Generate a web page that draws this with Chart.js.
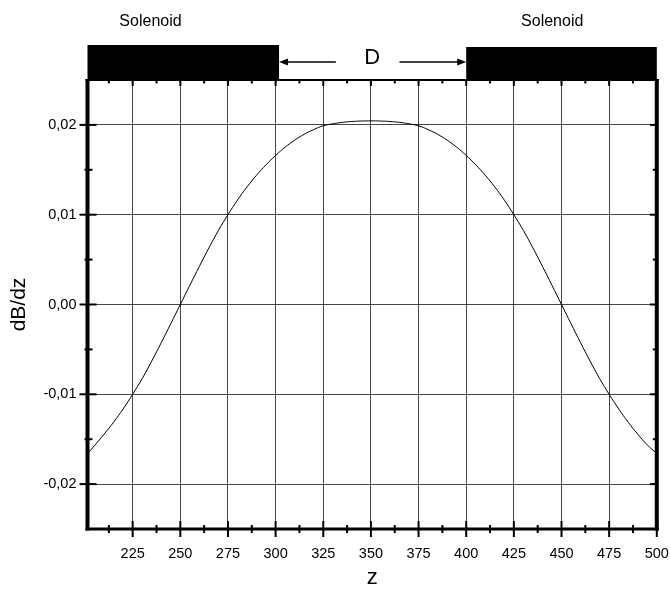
<!DOCTYPE html>
<html><head><meta charset="utf-8">
<script src="https://cdn.jsdelivr.net/npm/chart.js@4"></script>
<style>html,body{margin:0;padding:0;background:#fff;}#wrap{width:670px;height:589px;position:relative;}</style>
</head><body><div id="wrap"><canvas id="c" width="670" height="589"></canvas></div>
<script>
// ---- data ----
const zValues = [201,205,210,215,220,225,230,235,240,245,250,255,260,265,270,275,280,285,290,295,300,305,310,315,320,325,330,335,340,345,350,355,360,365,370,375,380,385,390,395,400,405,410,415,420,425,430,435,440,445,450,455,460,465,470,475,480,485,490,495,500];
const dBdz = [-0.0167,-0.0157,-0.01444,-0.01311,-0.01163,-0.0100,-0.00825,-0.0063,-0.00425,-0.00214,0.0000,0.00214,0.00425,0.0063,0.00825,0.0100,0.01163,0.01309,0.0144,0.01556,0.0166,0.01752,0.0183,0.01896,0.01948,0.0199,0.02012,0.02028,0.02038,0.02043,0.02045,0.02043,0.02038,0.02028,0.02012,0.0199,0.01948,0.01896,0.0183,0.01752,0.0166,0.01556,0.0144,0.01309,0.01163,0.0100,0.00825,0.0063,0.00425,0.00214,0.0000,-0.00214,-0.00425,-0.0063,-0.00825,-0.0100,-0.01163,-0.01311,-0.01444,-0.01564,-0.0166];
const xTickValues = [225,250,275,300,325,350,375,400,425,450,475,500];
const xMinorTicks = [212.5,237.5,262.5,287.5,312.5,337.5,362.5,387.5,412.5,437.5,462.5,487.5];
const yTickValues = [-0.02,-0.01,0,0.01,0.02];
const yMinorTicks = [-0.015,-0.005,0.005,0.015];
const xRange = [201.3, 500];
const yRange = [-0.025, 0.025];
const solenoidSpans = [[201.3, 301.8], [400, 500]];
const solenoidLabels = ['Solenoid', 'Solenoid'];
const gapArrows = [[301.8, 331.6], [365, 400]];
const gapLabel = 'D';
const gapLabelZ = 350.7;
const xTitle = 'z';
const yTitle = 'dB/dz';

const SANS = "'Liberation Sans',Arial,sans-serif";

const decor = {
  id: 'decor',
  beforeDraw(chart) {
    const ctx = chart.ctx;
    ctx.save();
    ctx.fillStyle = '#fff';
    ctx.fillRect(0, 0, chart.width, chart.height);
    ctx.restore();
  },
  afterDraw(chart) {
    const ctx = chart.ctx;
    const xs = chart.scales.x, ys = chart.scales.y;
    const a = chart.chartArea;
    ctx.save();
    ctx.strokeStyle = '#000';
    ctx.fillStyle = '#000';
    ctx.lineCap = 'butt';
    // frame
    ctx.lineWidth = 4;
    ctx.beginPath(); ctx.moveTo(a.left, a.top - 1); ctx.lineTo(a.left, a.bottom + 1.5); ctx.stroke();
    ctx.beginPath(); ctx.moveTo(a.right, a.top - 1); ctx.lineTo(a.right, a.bottom + 1.5); ctx.stroke();
    ctx.lineWidth = 3;
    ctx.beginPath(); ctx.moveTo(a.left - 2, a.bottom); ctx.lineTo(a.right + 2, a.bottom); ctx.stroke();
    ctx.lineWidth = 2;
    ctx.beginPath(); ctx.moveTo(a.left - 2, a.top); ctx.lineTo(a.right + 2, a.top); ctx.stroke();
    // y ticks
    yTickValues.forEach(v => {
      const p = ys.getPixelForValue(v);
      ctx.beginPath(); ctx.moveTo(a.left - 8, p); ctx.lineTo(a.left + 9, p); ctx.stroke();
      ctx.beginPath(); ctx.moveTo(a.right - 7, p); ctx.lineTo(a.right, p); ctx.stroke();
    });
    yMinorTicks.forEach(v => {
      const p = ys.getPixelForValue(v);
      ctx.beginPath(); ctx.moveTo(a.left - 3, p); ctx.lineTo(a.left + 5, p); ctx.stroke();
      ctx.beginPath(); ctx.moveTo(a.right - 4, p); ctx.lineTo(a.right, p); ctx.stroke();
    });
    // x ticks
    xTickValues.forEach(v => {
      const p = xs.getPixelForValue(v);
      ctx.beginPath(); ctx.moveTo(p, a.bottom - 8); ctx.lineTo(p, a.bottom + 8); ctx.stroke();
      ctx.beginPath(); ctx.moveTo(p, a.top); ctx.lineTo(p, a.top + 6); ctx.stroke();
    });
    xMinorTicks.forEach(v => {
      const p = xs.getPixelForValue(v);
      ctx.beginPath(); ctx.moveTo(p, a.bottom - 4); ctx.lineTo(p, a.bottom + 4); ctx.stroke();
      ctx.beginPath(); ctx.moveTo(p, a.top); ctx.lineTo(p, a.top + 3.5); ctx.stroke();
    });
    // solenoid blocks
    const tops = [a.top - 35, a.top - 33];
    solenoidSpans.forEach((s, i) => {
      const x0 = xs.getPixelForValue(s[0]), x1 = xs.getPixelForValue(s[1]);
      ctx.fillRect(x0, tops[i], x1 - x0, a.top - tops[i]);
      ctx.font = '16px ' + SANS;
      ctx.textAlign = 'center';
      ctx.textBaseline = 'middle';
      ctx.fillText(solenoidLabels[i], i === 0 ? x0 + 63 : x0 + 86, 22);
    });
    // arrows
    const ay = a.top - 18;
    ctx.lineWidth = 1.3;
    const la0 = xs.getPixelForValue(gapArrows[0][0]), la1 = xs.getPixelForValue(gapArrows[0][1]);
    ctx.beginPath(); ctx.moveTo(la0 + 6, ay); ctx.lineTo(la1, ay); ctx.stroke();
    ctx.beginPath(); ctx.moveTo(la0, ay); ctx.lineTo(la0 + 9, ay - 3.5); ctx.lineTo(la0 + 9, ay + 3.5); ctx.closePath(); ctx.fill();
    const ra0 = xs.getPixelForValue(gapArrows[1][0]), ra1 = xs.getPixelForValue(gapArrows[1][1]);
    ctx.beginPath(); ctx.moveTo(ra0, ay); ctx.lineTo(ra1 - 6, ay); ctx.stroke();
    ctx.beginPath(); ctx.moveTo(ra1, ay); ctx.lineTo(ra1 - 9, ay - 3.5); ctx.lineTo(ra1 - 9, ay + 3.5); ctx.closePath(); ctx.fill();
    ctx.font = '22px ' + SANS;
    ctx.textAlign = 'center';
    ctx.textBaseline = 'alphabetic';
    ctx.fillText(gapLabel, xs.getPixelForValue(gapLabelZ), a.top - 16);
    ctx.restore();
  }
};

new Chart(document.getElementById('c'), {
  type: 'line',
  data: {
    datasets: [{
      data: zValues.map((z, i) => ({ x: z, y: dBdz[i] })),
      borderColor: '#000',
      borderWidth: 1,
      pointRadius: 0,
      fill: false,
      tension: 0.4
    }]
  },
  options: {
    responsive: false,
    animation: false,
    devicePixelRatio: 1,
    layout: { padding: { left: 0, right: 13.2, top: 80, bottom: 0 } },
    plugins: { legend: { display: false }, tooltip: { enabled: false } },
    scales: {
      x: {
        type: 'linear', min: xRange[0], max: xRange[1],
        afterBuildTicks: s => { s.ticks = xTickValues.map(v => ({ value: v })); },
        afterFit: s => { s.height = 60; s.paddingLeft = 0; s.paddingRight = 0; },
        grid: { color: 'rgba(0,0,0,0.72)', lineWidth: 1, drawTicks: false },
        border: { display: false },
        ticks: { color: '#000', font: { family: SANS, size: 14.5 }, padding: 16, maxRotation: 0, autoSkip: false,
                 callback: v => String(v) },
        title: { display: true, text: xTitle, color: '#000', font: { family: SANS, size: 22, lineHeight: 1 }, padding: 0 }
      },
      y: {
        type: 'linear', min: yRange[0], max: yRange[1],
        afterBuildTicks: s => { s.ticks = yTickValues.map(v => ({ value: v })); },
        afterFit: s => { s.width = 87.5; s.paddingTop = 0; s.paddingBottom = 0; },
        grid: { color: 'rgba(0,0,0,0.72)', lineWidth: 1, drawTicks: false },
        border: { display: false },
        ticks: { color: '#000', font: { family: SANS, size: 14.5 }, padding: 11, autoSkip: false,
                 callback: v => v.toFixed(2).replace('.', ',').replace('-0,00', '0,00') },
        title: { display: true, text: yTitle, color: '#000', font: { family: SANS, size: 21, lineHeight: 1.2 }, padding: { top: 7, bottom: 0 } }
      }
    }
  },
  plugins: [decor]
});
</script>
</body></html>
